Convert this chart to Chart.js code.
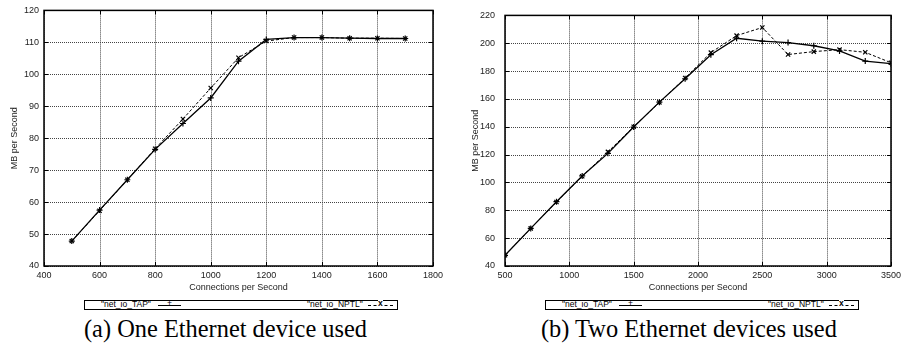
<!DOCTYPE html>
<html lang="en">
<head>
  <meta charset="UTF-8" />
  <title>net_io throughput</title>
  <script src="https://cdn.jsdelivr.net/npm/chart.js"></script>
  <style>
    body { margin: 0; background: #fff; width: 905px; height: 348px; position: relative; overflow: hidden; }
    .panel { position: absolute; top: 0; width: 450px; height: 296px; }
    .legend { position: absolute; top: 300px; height: 8px; border: 1px solid #000; font: 8.5px "Liberation Sans", Arial, sans-serif; color: #000; }
    .legend span { position: absolute; top: -1px; line-height: 9px; white-space: nowrap; }
    .sample { position: absolute; top: 4px; height: 0; }
    .caption { position: absolute; top: 317px; font: 24.4px/24px "Liberation Serif", "Times New Roman", serif; color: #000; white-space: pre; }
  </style>
</head>
<body>
  <div class="panel" style="left:0"><canvas id="oneDev" width="450" height="296"></canvas></div>
  <div class="panel" style="left:455px"><canvas id="twoDev" width="450" height="296"></canvas></div>

  <div class="legend" style="left:84px;width:312px">
    <span style="left:16px">"net_io_TAP"</span>
    <div class="sample" style="left:73px;width:23px;border-top:1px solid #000"></div>
    <span style="left:82px;top:-2px">+</span>
    <span style="left:222px">"net_io_NPTL"</span>
    <div class="sample" style="left:283px;width:25px;border-top:1px dashed #000"></div>
    <span style="left:293px;top:-2px;background:#fff;font-weight:bold">x</span>
  </div>
  <div class="legend" style="left:545px;width:312px">
    <span style="left:16px">"net_io_TAP"</span>
    <div class="sample" style="left:73px;width:23px;border-top:1px solid #000"></div>
    <span style="left:82px;top:-2px">+</span>
    <span style="left:222px">"net_io_NPTL"</span>
    <div class="sample" style="left:283px;width:25px;border-top:1px dashed #000"></div>
    <span style="left:293px;top:-2px;background:#fff;font-weight:bold">x</span>
  </div>

  <div class="caption" style="left:84px">(a) One Ethernet device used</div>
  <div class="caption" style="left:541px">(b) Two Ethernet devices used</div>

<script>
  // (a) one ethernet device
  const connsA = [500, 600, 700, 800, 900, 1000, 1100, 1200, 1300, 1400, 1500, 1600, 1700];
  const tapA   = [47.8, 57.5, 67.0, 76.5, 84.6, 92.6, 104.1, 110.9, 111.5, 111.5, 111.3, 111.2, 111.2];
  const nptlA  = [47.8, 57.3, 67.0, 76.7, 86.0, 95.7, 105.2, 110.4, 111.5, 111.5, 111.3, 111.3, 111.2];

  // (b) two ethernet devices
  const connsB = [500, 700, 900, 1100, 1300, 1500, 1700, 1900, 2100, 2300, 2500, 2700, 2900, 3100, 3300, 3500];
  const tapB   = [47.7, 67.0, 86.2, 104.7, 120.9, 139.8, 157.7, 174.5, 191.8, 203.6, 201.5, 200.5, 198.2, 194.5, 187.2, 185.3];
  const nptlB  = [47.7, 67.0, 86.0, 104.5, 122.0, 140.0, 157.5, 175.0, 193.3, 205.5, 211.3, 191.9, 194.0, 195.4, 193.5, 186.0];

  const seriesNames = ['"net_io_TAP"', '"net_io_NPTL"'];
  const xTitle = 'Connections per Second';
  const yTitle = 'MB per Second';

  const tickFont = { family: 'Liberation Sans, Arial, sans-serif', size: 9 };

  // gnuplot look: dotted grid, short inward ticks on all four sides, black frame
  const gnuplotBox = {
    id: 'gnuplotBox',
    beforeDatasetsDraw(chart) {
      const a = chart.chartArea, ctx = chart.ctx;
      const sx = chart.scales.x, sy = chart.scales.y;
      ctx.save();
      ctx.lineWidth = 1;
      ctx.strokeStyle = '#444';
      ctx.setLineDash([1, 1]);
      ctx.beginPath();
      for (const t of sx.ticks) {
        const p = Math.round(sx.getPixelForValue(t.value)) + 0.5;
        ctx.moveTo(p, a.top); ctx.lineTo(p, a.bottom);
      }
      for (const t of sy.ticks) {
        const p = Math.round(sy.getPixelForValue(t.value)) + 0.5;
        ctx.moveTo(a.left, p); ctx.lineTo(a.right, p);
      }
      ctx.stroke();
      ctx.setLineDash([]);
      ctx.strokeStyle = '#000';
      ctx.beginPath();
      for (const t of sx.ticks) {
        const p = Math.round(sx.getPixelForValue(t.value)) + 0.5;
        ctx.moveTo(p, a.bottom); ctx.lineTo(p, a.bottom - 4);
        ctx.moveTo(p, a.top); ctx.lineTo(p, a.top + 4);
      }
      for (const t of sy.ticks) {
        const p = Math.round(sy.getPixelForValue(t.value)) + 0.5;
        ctx.moveTo(a.left, p); ctx.lineTo(a.left + 4, p);
        ctx.moveTo(a.right, p); ctx.lineTo(a.right - 4, p);
      }
      ctx.stroke();
      ctx.restore();
    },
    afterDraw(chart) {
      const a = chart.chartArea, ctx = chart.ctx;
      ctx.save();
      ctx.strokeStyle = '#000';
      ctx.lineWidth = 1.5;
      ctx.strokeRect(a.left, a.top, a.right - a.left, a.bottom - a.top);
      ctx.restore();
    }
  };

  function pts(xs, ys) { return xs.map((x, i) => ({ x: x, y: ys[i] })); }

  // lay = [yAxisWidth, tickPad, yTitleOffset, rightPad]
  function makeChart(id, xs, tap, nptl, xr, yr, lay) {
    new Chart(document.getElementById(id), {
      type: 'line',
      data: {
        datasets: [{
          label: seriesNames[0],
          data: pts(xs, tap),
          borderColor: '#000',
          borderWidth: 1.3,
          pointStyle: 'cross',
          pointRadius: 3,
          pointBorderColor: '#000',
          pointBorderWidth: 1.2,
          fill: false,
          tension: 0
        }, {
          label: seriesNames[1],
          data: pts(xs, nptl),
          borderColor: '#000',
          borderWidth: 1,
          borderDash: [3, 2],
          pointStyle: 'crossRot',
          pointRadius: 3,
          pointBorderColor: '#000',
          pointBorderWidth: 1.2,
          fill: false,
          tension: 0
        }]
      },
      options: {
        responsive: false,
        animation: false,
        layout: { padding: { top: 10, right: lay[3], left: 0, bottom: 3 } },
        plugins: { legend: { display: false }, tooltip: { enabled: false } },
        scales: {
          x: {
            type: 'linear',
            min: xr[0], max: xr[1],
            afterFit(s) { s.height = 27; },
            ticks: { stepSize: xr[2], color: '#222', font: tickFont, padding: 4, maxRotation: 0, callback: v => String(v) },
            grid: { display: false, drawTicks: false },
            border: { display: false },
            title: { display: true, text: xTitle, color: '#222', font: tickFont, padding: { top: 1, bottom: 0 } }
          },
          y: {
            type: 'linear',
            min: yr[0], max: yr[1],
            afterFit(s) { s.width = lay[0]; },
            ticks: { stepSize: yr[2], color: '#222', font: tickFont, padding: lay[1], callback: v => String(v) },
            grid: { display: false, drawTicks: false },
            border: { display: false },
            title: { display: true, text: yTitle, color: '#222', font: tickFont, padding: { top: lay[2], bottom: 0 } }
          }
        }
      },
      plugins: [gnuplotBox]
    });
  }

  makeChart('oneDev', connsA, tapA, nptlA, [400, 1800, 200], [40, 120, 10], [44, 5, 9, 17]);
  makeChart('twoDev', connsB, tapB, nptlB, [500, 3500, 500], [40, 220, 20], [50, 10, 15, 10]);
</script>
</body>
</html>
